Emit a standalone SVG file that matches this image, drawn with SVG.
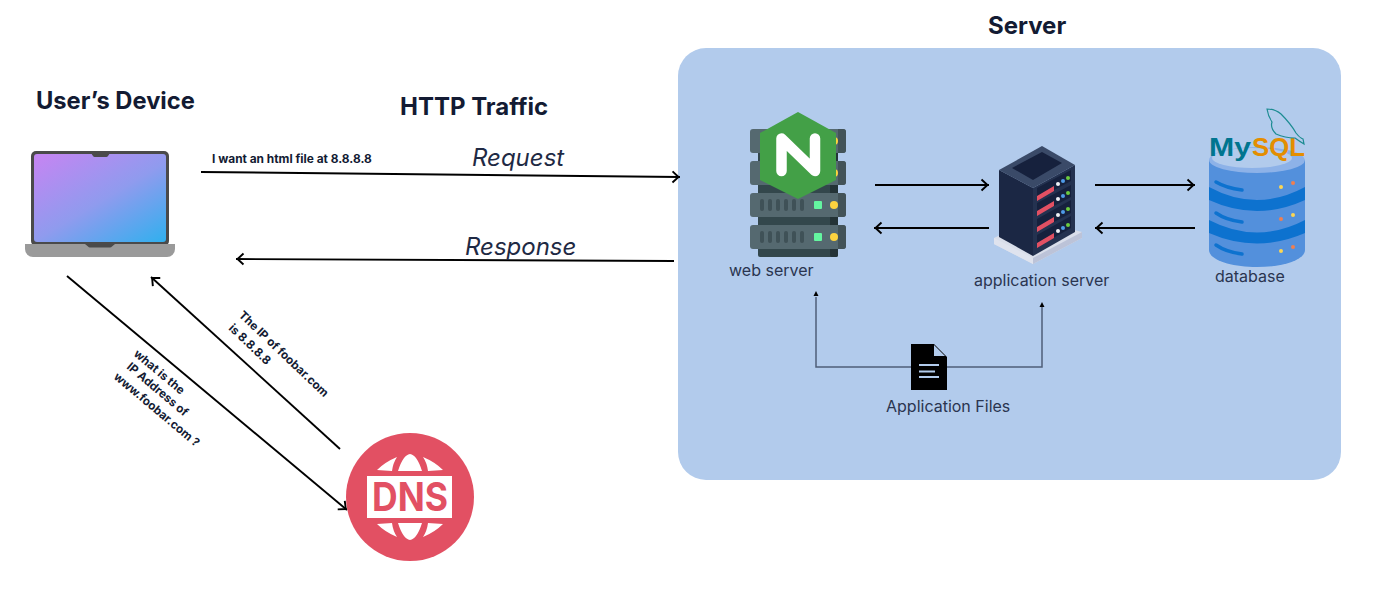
<svg xmlns="http://www.w3.org/2000/svg" width="1392" height="597" viewBox="0 0 1392 597">
<style>
text{font-family:Inter,"Liberation Sans",sans-serif;fill:#131b33}
.h{font-weight:700;font-size:24px}
.t{font-size:24px;font-style:italic;fill:#1f2a44}
.s{font-weight:700;font-size:11.900px}
.r{font-weight:700;font-size:11.700px}
.l{font-size:16px;fill:#2a3550}
.c{fill:none;stroke:#000;stroke-width:1.900}
.e{fill:none;stroke:#4f5f78;stroke-width:1.500}
.srv{fill:#556970}.sd{fill:#435358}.v{fill:#3f5157}
</style>
<defs>
<linearGradient id="scr" x1="0.1" y1="0" x2="1" y2="1"><stop offset="0" stop-color="#c286f2"/><stop offset="0.5" stop-color="#8f9bee"/><stop offset="1" stop-color="#30b0ee"/></linearGradient>
<marker id="a" viewBox="0 0 14 14" refX="13.500" refY="7" markerWidth="14" markerHeight="14" markerUnits="userSpaceOnUse" orient="auto"><path d="M6 1.500 L12 7 L6 12.500" fill="none" stroke="#000" stroke-width="1.900"/></marker>
<g id="srvrow"><rect x="750" y="0" width="96" height="24" rx="3" class="srv"/><path d="M838 0h5a3 3 0 0 1 3 3v18a3 3 0 0 1-3 3h-5z" class="sd"/><rect x="760" y="6" width="4" height="12" rx="2" class="v"/><rect x="768" y="6" width="4" height="12" rx="2" class="v"/><rect x="776" y="6" width="4" height="12" rx="2" class="v"/><rect x="784" y="6" width="4" height="12" rx="2" class="v"/><rect x="792" y="6" width="4" height="12" rx="2" class="v"/><rect x="800" y="6" width="4" height="12" rx="2" class="v"/><rect x="814" y="8" width="8" height="8" rx="1" fill="#64f5a0"/><circle cx="834" cy="12" r="4" fill="#fdd33f"/></g>
</defs>
<rect x="678" y="48" width="663" height="432" rx="28" fill="#b2cbec"/>
<g id="connectors">
<line x1="201" y1="172" x2="680" y2="177" class="c" marker-end="url(#a)"/>
<line x1="674" y1="261" x2="236" y2="259" class="c" marker-end="url(#a)"/>
<line x1="67" y1="276" x2="347" y2="510" class="c" marker-end="url(#a)"/>
<line x1="340" y1="449" x2="151" y2="277" class="c" marker-end="url(#a)"/>
<line x1="875" y1="185" x2="989" y2="185" class="c" marker-end="url(#a)"/>
<line x1="989" y1="228" x2="874" y2="228" class="c" marker-end="url(#a)"/>
<line x1="1095" y1="185" x2="1195" y2="185" class="c" marker-end="url(#a)"/>
<line x1="1195" y1="228" x2="1095" y2="228" class="c" marker-end="url(#a)"/>
<path d="M816 297V367H1042V307" class="e"/>
<path d="M813.500 296L816 291L818.500 296Z M1039.500 307L1042 302L1044.500 307Z" fill="#000"/>
</g>
<g id="user-device">
<text x="36" y="109" class="h" style="font-size:23.700px">User’s Device</text>
<rect x="31" y="151" width="138" height="95" rx="5" fill="#4a4a4a"/>
<rect x="34" y="154" width="132" height="88" rx="3" fill="url(#scr)"/>
<path d="M91 153h19l-2 3a2 2 0 0 1-2 1h-11a2 2 0 0 1-2-1z" fill="#4a4a4a"/>
<path d="M25 244h150v5a8 8 0 0 1-8 8H33a8 8 0 0 1-8-8z" fill="#9a9a9a"/>
<path d="M85 244h30l-3 2.500a3 3 0 0 1-2 1H90a3 3 0 0 1-2-1z" fill="#4a4a4a"/>
</g>
<g id="labels">
<text x="400" y="115" class="h">HTTP Traffic</text>
<text x="988" y="34" class="h">Server</text>
<text x="212" y="163" class="s">I want an html file at 8.8.8.8</text>
<text x="472" y="166" class="t">Request</text>
<text x="465" y="255" class="t">Response</text>
<text transform="translate(238 316) rotate(43.500)" class="r">The IP of foobar.com</text>
<text transform="translate(228 329) rotate(43.500)" class="r">is 8.8.8.8</text>
<text transform="translate(133 355) rotate(40)" class="r">what is the</text>
<text transform="translate(126 368) rotate(40)" class="r">IP Address of</text>
<text transform="translate(113 378) rotate(40)" class="r">www.foobar.com ?</text>
</g>
<g id="dns">
<circle cx="410" cy="497" r="64" fill="#e25063"/>
<g fill="#fff">
<path d="M398 471Q403 455 410 454Q417 455 422 471Z M377 470Q385 462 397 457Q393 463 392 471Z M443 470Q435 462 423 457Q427 463 428 471Z"/>
<path d="M398 523Q403 539 410 540Q417 539 422 523Z M377 524Q385 532 397 537Q393 531 392 523Z M443 524Q435 532 423 537Q427 531 428 523Z"/>
<rect x="367" y="476" width="85" height="42"/>
</g>
<text x="372" y="511" style="font-size:40px;font-weight:700;fill:#e25063" textLength="76" lengthAdjust="spacingAndGlyphs">DNS</text>
</g>
<g id="web-server">
<rect x="758" y="129" width="80" height="128" rx="2" fill="#33474c"/>
<rect x="830" y="129" width="8" height="128" rx="2" fill="#243337"/>
<use href="#srvrow" y="129"/><use href="#srvrow" y="161"/><use href="#srvrow" y="193"/><use href="#srvrow" y="225"/>
<path d="M798 112L836 133V180L798 199L760 180V133Z" fill="#43a047"/>
<path d="M781.500 171V138.500L815 171V138.500" fill="none" stroke="#fff" stroke-width="10.500" stroke-linecap="round" stroke-linejoin="round"/>
<text x="729" y="276" class="l">web server</text>
</g>
<g id="application-server">
<path d="M994 238L1033 219L1082 232V238L1033 264L994 244Z" fill="#d9deea"/>
<path d="M994 238L1033 258V264L994 244Z" fill="#dfe3ee"/>
<path d="M1033 258L1082 232V238L1033 264Z" fill="#bcc3d8"/>
<path d="M999 170L1042 146L1075 165L1033 188Z" fill="#3a4a68"/>
<path d="M1012 168L1042 152L1062 163L1033 180Z" fill="#16213d"/>
<path d="M999 170L1033 188V256L999 237Z" fill="#1b2744"/>
<path d="M1033 188L1075 165V232L1033 256Z" fill="#243250"/>
<path d="M1037 188L1071 170V181L1037 199Z M1037 203L1071 185V197L1037 215Z M1037 219L1071 200V213L1037 231Z M1037 235L1071 216V228L1037 247Z" fill="#16213d"/>
<path d="M1037 196L1054 186V191L1037 201Z M1037 211L1054 201V206L1037 216Z M1037 227L1054 217V222L1037 232Z M1037 243L1054 233V238L1037 248Z" fill="#e25063"/>
<g fill="#eef0f5"><circle cx="1058" cy="184" r="2"/><circle cx="1058" cy="199" r="2"/><circle cx="1058" cy="215" r="2"/><circle cx="1058" cy="231" r="2"/></g>
<g fill="#4f9be8"><circle cx="1063" cy="181" r="2"/><circle cx="1063" cy="196" r="2"/><circle cx="1063" cy="212" r="2"/><circle cx="1063" cy="228" r="2"/></g>
<g fill="#6ccb3f"><circle cx="1068" cy="178" r="2"/><circle cx="1068" cy="193" r="2"/><circle cx="1068" cy="209" r="2"/><circle cx="1068" cy="225" r="2"/></g>
<text x="974" y="286" class="l">application server</text>
</g>
<g id="database">
<path d="M1209 160H1305V250C1305 260 1283 267 1257 267C1231 267 1209 260 1209 250Z" fill="#5390dc"/>
<ellipse cx="1257" cy="160" rx="48" ry="13" fill="#8db2e8"/>
<ellipse cx="1252" cy="158" rx="40" ry="10" fill="#b2cbec"/>
<path d="M1209 187Q1257 213 1305 187V200Q1257 222 1209 200Z M1209 220Q1257 245 1305 220V233Q1257 254 1209 233Z" fill="#0d72cf"/>
<g stroke="#0d72cf" stroke-width="3.500" stroke-linecap="round" fill="none"><path d="M1216 182Q1226 188 1242 190"/><path d="M1216 213Q1226 220 1242 222"/><path d="M1216 245Q1226 252 1242 254"/></g>
<g fill="#fdd652"><circle cx="1281" cy="187" r="2"/><circle cx="1293" cy="215" r="2"/><circle cx="1281" cy="251" r="2"/></g>
<g fill="#f07f50"><circle cx="1293" cy="183" r="2"/><circle cx="1281" cy="219" r="2"/><circle cx="1293" cy="247" r="2"/></g>
<text x="1209" y="156" style="font-size:26px;font-weight:700;fill:#00758f;font-family:'Liberation Sans',sans-serif" textLength="42" lengthAdjust="spacingAndGlyphs">My</text>
<text x="1252" y="156" style="font-size:26px;font-weight:700;fill:#e48e00;font-family:'Liberation Sans',sans-serif" textLength="53" lengthAdjust="spacingAndGlyphs">SQL</text>
<path d="M1267 109Q1275 109 1281 114Q1291 124 1296 133Q1300 138 1303 139L1304 144Q1299 141 1295 138Q1285 138 1276 134Q1270 128 1272 122Q1268 116 1267 109Z" fill="none" stroke="#1c8c92" stroke-width="1.200"/>
<text x="1215" y="282" class="l">database</text>
</g>
<g id="application-files">
<path d="M911 344H934L947 357V390H911Z" fill="#000"/>
<path d="M934 345V356H945Z" fill="#b2cbec"/>
<path d="M919 365H939M919 371.500H935M919 377H939" stroke="#b2cbec" stroke-width="2"/>
<text x="886" y="412" class="l">Application Files</text>
</g>
</svg>
